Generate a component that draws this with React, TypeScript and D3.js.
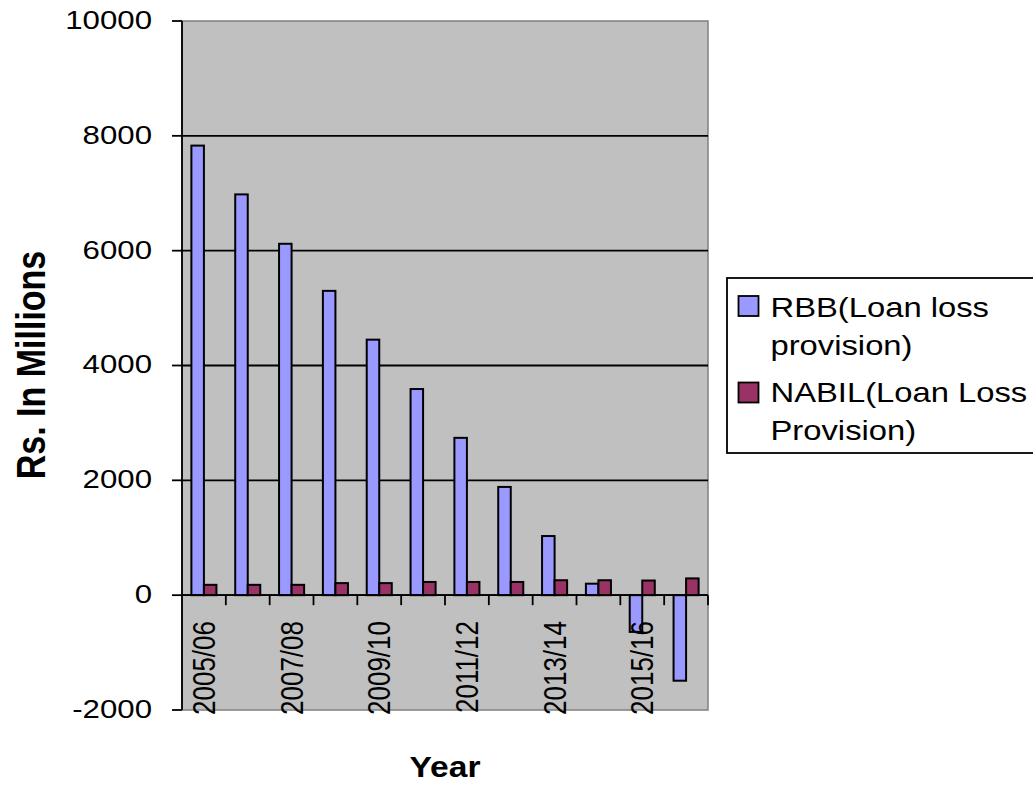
import React from "react";
import * as d3 from "d3";

const categories = ["2005/06","2006/07","2007/08","2008/09","2009/10","2010/11","2011/12","2012/13","2013/14","2014/15","2015/16","2016/17"];
const rbbValues = [7830, 6980, 6120, 5300, 4450, 3590, 2740, 1885, 1030, 200, -640, -1490];
const nabilValues = [180, 180, 180, 210, 210, 230, 230, 230, 260, 260, 255, 292];
const yTicks = [-2000, 0, 2000, 4000, 6000, 8000, 10000];
const seriesNames = ["RBB(Loan loss", "provision)", "NABIL(Loan Loss", "Provision)"];

const W = 1033, H = 785;
const plot = { left: 182, right: 708, top: 21, bottom: 710 };
const SX = 1.2;
const FONT = "'Liberation Sans', Arial, sans-serif";
const RBB_COLOR = "#9999ff";
const NABIL_COLOR = "#993366";

export default function App() {
  const y = d3.scaleLinear().domain([-2000, 10000]).range([plot.bottom, plot.top]);
  const x = d3.scaleBand<string>().domain(categories).range([plot.left, plot.right]).paddingInner(0).paddingOuter(0);
  const step = x.step();
  const bw = step / 3.5;
  const off = 0.75 * bw;
  const y0 = y(0);

  return (
    <svg width={W} height={H} style={{ position: "absolute", left: 0, top: 0, background: "#fff" }} fontFamily={FONT}>
      <rect x={plot.left} y={plot.top} width={plot.right - plot.left} height={plot.bottom - plot.top} fill="#c0c0c0" stroke="#808080" strokeWidth={1.5} />
      {yTicks.filter(t => t > -2000 && t < 10000).map(t => (
        <line key={"g" + t} x1={plot.left} x2={plot.right} y1={y(t)} y2={y(t)} stroke="#000" strokeWidth={1.8} />
      ))}
      {categories.map((c, i) => {
        const bx = (x(c) as number) + off;
        const r = rbbValues[i];
        const n = nabilValues[i];
        return (
          <g key={c}>
            <rect x={bx} y={Math.min(y(r), y0)} width={bw} height={Math.abs(y(r) - y0)} fill={RBB_COLOR} stroke="#000" strokeWidth={2} />
            <rect x={bx + bw} y={Math.min(y(n), y0)} width={bw} height={Math.abs(y(n) - y0)} fill={NABIL_COLOR} stroke="#000" strokeWidth={2} />
          </g>
        );
      })}
      <line x1={plot.left} x2={plot.right} y1={y0} y2={y0} stroke="#000" strokeWidth={1.8} />
      {categories.map((c, i) => (
        <line key={"xt" + i} x1={(x(c) as number) + step} x2={(x(c) as number) + step} y1={y0} y2={y0 + 10} stroke="#000" strokeWidth={1.8} />
      ))}
      <line x1={plot.left} x2={plot.left} y1={plot.top} y2={plot.bottom} stroke="#000" strokeWidth={1.8} />
      {yTicks.map(t => (
        <g key={"yt" + t}>
          <line x1={plot.left - 10} x2={plot.left} y1={y(t)} y2={y(t)} stroke="#000" strokeWidth={1.8} />
          <text transform={`translate(152,${y(t) - 1.5}) scale(${SX},1)`} textAnchor="end" dy="0.36em" fontSize={26} fill="#000">{t}</text>
        </g>
      ))}
      {categories.map((c, i) => i % 2 === 0 ? (
        <text key={"xl" + i} transform={`translate(${(x(c) as number) + step / 2},621) scale(${SX},1) rotate(-90)`} textAnchor="end" dy="0.36em" fontSize={26} fill="#000">{c}</text>
      ) : null)}
      <text transform={`translate(${(plot.left + plot.right) / 2},776.5) scale(1.12,1)`} textAnchor="middle" fontSize={30} fontWeight="bold" fill="#000">Year</text>
      <text transform={`translate(30,365) scale(${SX},1) rotate(-90)`} textAnchor="middle" dy="0.36em" fontSize={34} fontWeight="bold" fill="#000">Rs. In Millions</text>
      <rect x={727} y={278} width={330} height={175} fill="#fff" stroke="#000" strokeWidth={1.8} />
      <rect x={738.5} y={296} width={20} height={20} fill={RBB_COLOR} stroke="#000" strokeWidth={1.8} />
      <rect x={738.5} y={382.5} width={20} height={20} fill={NABIL_COLOR} stroke="#000" strokeWidth={1.8} />
      {seriesNames.map((s, i) => (
        <text key={"lg" + i} transform={`translate(770.5,${[316.7, 355, 401.7, 440][i]}) scale(1.17,1)`} fontSize={28} fill="#000">{s}</text>
      ))}
    </svg>
  );
}
